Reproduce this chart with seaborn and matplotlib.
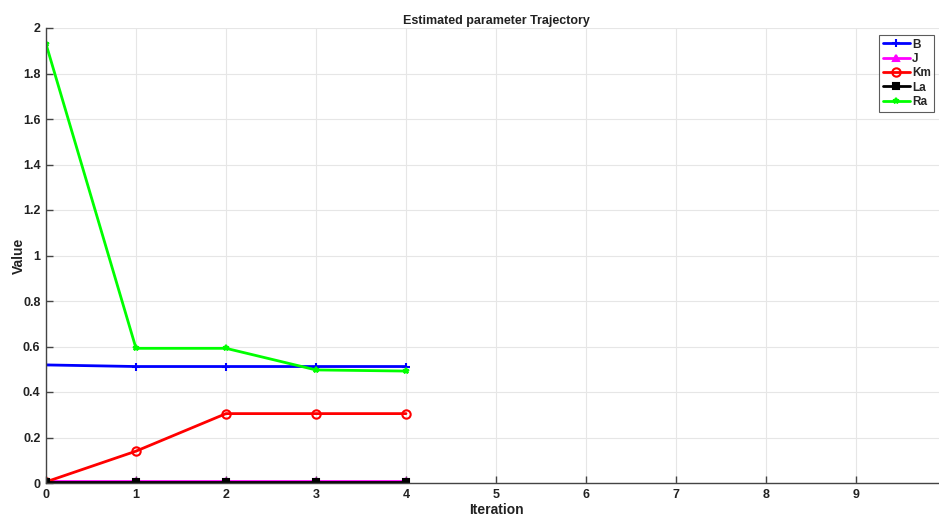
import matplotlib
matplotlib.use("Agg")
import matplotlib.pyplot as plt
import seaborn as sns
import pandas as pd

sns.set_theme(style="whitegrid")
plt.rcParams['font.family'] = ['Liberation Sans', 'DejaVu Sans']

iterations = [0, 1, 2, 3, 4]
B = [0.519, 0.512, 0.512, 0.512, 0.512]
J = [0.010, 0.010, 0.010, 0.010, 0.010]
Km = [0.005, 0.140, 0.305, 0.305, 0.305]
La = [0.003, 0.003, 0.003, 0.003, 0.003]
Ra = [1.930, 0.592, 0.592, 0.497, 0.492]

series_names = ["B", "J", "Km", "La", "Ra"]
series_vals = [B, J, Km, La, Ra]
colors = ["#0000ff", "#ff00ff", "#ff0000", "#000000", "#00ff00"]
markers = ["+", "^", "o", "s", "*"]
msizes = [6, 5, 6, 4.5, 4]
fills = ["full", "full", "none", "full", "full"]

df = pd.DataFrame({"Iteration": iterations * 5,
                   "Value": sum(series_vals, []),
                   "Series": sum([[n] * len(iterations) for n in series_names], [])})

fig = plt.figure(figsize=(9.39, 5.16), dpi=100)
ax = fig.add_axes([46 / 939, (516 - 483) / 516, 900 / 939, 455 / 516])

for name, col, mk, ms, fs in zip(series_names, colors, markers, msizes, fills):
    sub = df[df["Series"] == name]
    sns.lineplot(data=sub, x="Iteration", y="Value", ax=ax, color=col, marker=mk,
                 markersize=ms, fillstyle=fs, markeredgecolor=col, markeredgewidth=1.5,
                 linewidth=2, label=name)

ax.set_xlim(0, 10)
ax.set_ylim(0, 2)
ax.set_xticks(range(0, 11))
ax.set_yticks([0, 0.2, 0.4, 0.6, 0.8, 1, 1.2, 1.4, 1.6, 1.8, 2])
ax.set_yticklabels(["0", "0.2", "0.4", "0.6", "0.8", "1", "1.2", "1.4", "1.6", "1.8", "2"])
ax.set_facecolor("white")
ax.grid(True, color="#e6e6e6", linewidth=0.8)
for s in ["top", "right"]:
    ax.spines[s].set_visible(False)
for s in ["left", "bottom"]:
    ax.spines[s].set_visible(True)
    ax.spines[s].set_color("#444444")
    ax.spines[s].set_linewidth(1.0)
ax.tick_params(direction="in", length=5, width=1, colors="#444444", labelcolor="#222222",
               labelsize=9, left=True, bottom=True, pad=4)
for lab in ax.get_xticklabels() + ax.get_yticklabels():
    lab.set_fontweight("bold")
ax.set_xlabel("Iteration", fontsize=10, fontweight="bold", color="#222222", labelpad=2)
ax.set_ylabel("Value", fontsize=10, fontweight="bold", color="#222222", labelpad=-2)
ax.set_title("Estimated parameter Trajectory", fontsize=9, fontweight="bold", color="#222222", pad=3)

leg = ax.legend(loc="upper left", frameon=True, fancybox=False,
                fontsize=8.5, handlelength=2.3, borderpad=0.3, labelspacing=0.2,
                handletextpad=0.2, borderaxespad=0)
leg.set_bbox_to_anchor((879 / 939, 1 - 35 / 516), transform=fig.transFigure)
leg.get_frame().set_edgecolor("#333333")
leg.get_frame().set_linewidth(0.8)
for t in leg.get_texts():
    t.set_fontweight("bold")

fig.savefig("out.png", dpi=100)
